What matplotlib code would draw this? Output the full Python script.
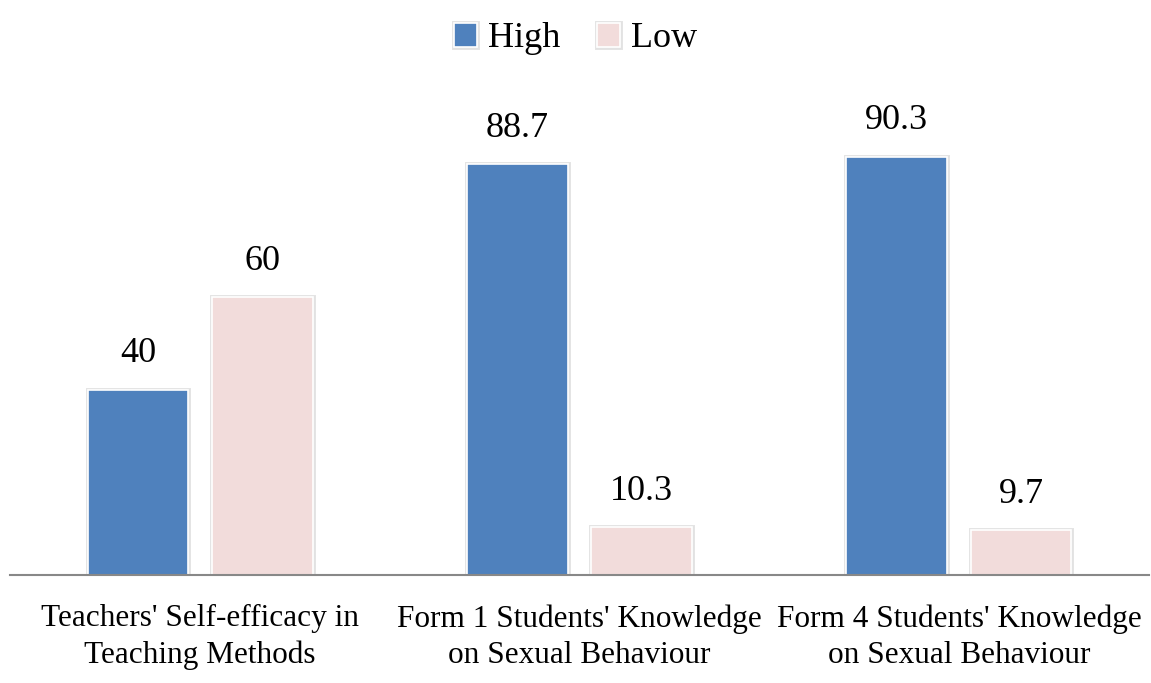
import matplotlib
matplotlib.use("Agg")
import matplotlib.pyplot as plt
import matplotlib.patheffects as pe
import numpy as np

# Datos del gráfico
categories = ["Teachers' Self-efficacy in\nTeaching Methods",
              "Form 1 Students' Knowledge\non Sexual Behaviour",
              "Form 4 Students' Knowledge\non Sexual Behaviour"]
high_values = [40, 88.7, 90.3]
low_values = [60, 10.3, 9.7]
high_labels = ["40", "88.7", "90.3"]
low_labels = ["60", "10.3", "9.7"]

HIGH_COLOR = "#4F81BD"
LOW_COLOR = "#F2DCDB"

plt.rcParams['font.family'] = ['Liberation Serif', 'DejaVu Serif']

fig = plt.figure(figsize=(11.51, 6.83), dpi=100)
ax = fig.add_axes([0.009, 0.158, 0.989, 0.678])

x = np.arange(len(categories))
width = 0.265
offset = 0.164
shadow = [pe.Stroke(linewidth=3.5, foreground="#e2e2e2"), pe.Normal()]

bars_high = ax.bar(x - offset, high_values, width, color=HIGH_COLOR,
                   edgecolor="white", linewidth=1.2, label="High")
bars_low = ax.bar(x + offset, low_values, width, color=LOW_COLOR,
                  edgecolor="white", linewidth=1.2, label="Low")
for b in list(bars_high) + list(bars_low):
    b.set_path_effects(shadow)

# Etiquetas de valor encima de las barras
for bars, labels in ((bars_high, high_labels), (bars_low, low_labels)):
    for b, txt in zip(bars, labels):
        ax.annotate(txt, (b.get_x() + b.get_width() / 2, b.get_height()),
                    xytext=(0, 14), textcoords="offset points",
                    ha="center", va="bottom", fontsize=26)

ax.set_xlim(-0.5, 2.5)
ax.set_ylim(0, 100)
ax.set_xticks(x)
ax.set_xticklabels(categories, fontsize=22.5, linespacing=1.32)
ax.tick_params(axis="x", length=0, pad=21)
ax.set_yticks([])
for s in ("top", "right", "left"):
    ax.spines[s].set_visible(False)
ax.spines["bottom"].set_color("#888888")
ax.spines["bottom"].set_linewidth(1.5)

fig.legend(handles=[bars_high, bars_low], labels=["High", "Low"],
           loc="upper center", bbox_to_anchor=(0.5, 1.015), ncol=2,
           frameon=False, fontsize=26, handlelength=0.65, handleheight=0.65,
           handletextpad=0.3, columnspacing=1.0)

fig.savefig("out.png", dpi=100)
